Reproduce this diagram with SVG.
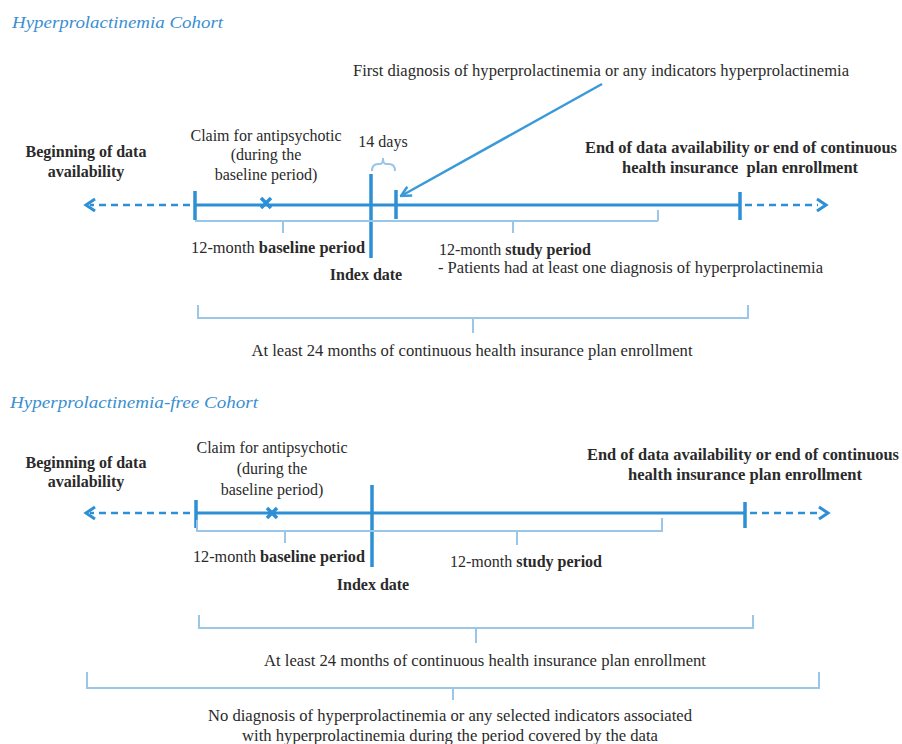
<svg xmlns="http://www.w3.org/2000/svg" width="902" height="744" viewBox="0 0 902 744">
<defs>
<style>
.t{font-family:"Liberation Serif","Times New Roman",serif;font-size:16px;fill:#2a2a2a}
.r{font-size:16px}
.w{font-size:16px}
.b{font-weight:bold}
.m{text-anchor:middle}
.title{font-family:"Liberation Serif","Times New Roman",serif;font-style:italic;font-size:17px;fill:#3a8fd0}
.tl{stroke:#2d8fd5;stroke-width:3;fill:none}
.tk{stroke:#2d8fd5;stroke-width:3.5;fill:none}
.ds{stroke:#2d8fd5;stroke-width:2.5;stroke-dasharray:7 5;fill:none}
.br{stroke:#9ac6e8;stroke-width:2;fill:none}
.ar{stroke:#3a9ad9;stroke-width:2.5;fill:none}
</style>
<marker id="ah" viewBox="0 0 10 10" refX="9" refY="5" markerWidth="5" markerHeight="5" orient="auto" markerUnits="strokeWidth">
<path d="M1,1 L9,5 L1,9" fill="none" stroke="#3a9ad9" stroke-width="2"/>
</marker>
</defs>
<rect width="902" height="744" fill="#ffffff"/>

<!-- Top cohort -->
<g id="title-top"><text class="title" x="12" y="28" textLength="211" lengthAdjust="spacingAndGlyphs">Hyperprolactinemia Cohort</text></g>

<g id="first-diagnosis"><text class="t w m" x="601" y="76" textLength="496" lengthAdjust="spacingAndGlyphs">First diagnosis of hyperprolactinemia or any indicators hyperprolactinemia</text></g>

<g id="begin-top"><text class="t b m" x="86" y="157">Beginning of data</text><text class="t b m" x="86" y="177">availability</text></g>

<g id="claim-top"><text class="t r m" x="266" y="141">Claim for antipsychotic</text><text class="t r m" x="266" y="160">(during the</text><text class="t r m" x="266" y="180">baseline period)</text></g>

<g id="days14"><text class="t m" x="383" y="147" font-size="11">14 days</text></g>

<g id="end-top"><text class="t b m" x="741" y="153" textLength="312" lengthAdjust="spacingAndGlyphs">End of data availability or end of continuous</text><text class="t b m" x="740" y="173" xml:space="preserve" textLength="236" lengthAdjust="spacingAndGlyphs">health insurance  plan enrollment</text></g>

<g id="baseline-top"><text class="t r" x="191" y="253" textLength="174" lengthAdjust="spacingAndGlyphs"><tspan>12-month </tspan><tspan class="b">baseline period</tspan></text></g>

<g id="index-top"><text class="t b r m" x="366" y="280">Index date</text></g>

<g id="study-top"><text class="t r" x="439" y="255"><tspan>12-month </tspan><tspan class="b">study period</tspan></text><text class="t w" x="438" y="273" textLength="385" lengthAdjust="spacingAndGlyphs">- Patients had at least one diagnosis of hyperprolactinemia</text></g>

<g id="enroll-top"><text class="t w m" x="472" y="356" textLength="441" lengthAdjust="spacingAndGlyphs">At least 24 months of continuous health insurance plan enrollment</text></g>

<!-- Bottom cohort -->
<g id="title-bottom"><text class="title" x="10" y="408" textLength="248" lengthAdjust="spacingAndGlyphs">Hyperprolactinemia-free Cohort</text></g>

<g id="begin-bottom"><text class="t b m" x="86" y="468">Beginning of data</text><text class="t b m" x="86" y="487">availability</text></g>

<g id="claim-bottom"><text class="t r m" x="272" y="453">Claim for antipsychotic</text><text class="t r m" x="272" y="474">(during the</text><text class="t r m" x="272" y="495">baseline period)</text></g>

<g id="end-bottom"><text class="t b m" x="743" y="460" textLength="312" lengthAdjust="spacingAndGlyphs">End of data availability or end of continuous</text><text class="t b m" x="745" y="480" textLength="234" lengthAdjust="spacingAndGlyphs">health insurance plan enrollment</text></g>

<g id="baseline-bottom"><text class="t r" x="193" y="562" textLength="172" lengthAdjust="spacingAndGlyphs"><tspan>12-month </tspan><tspan class="b">baseline period</tspan></text></g>

<g id="index-bottom"><text class="t b r m" x="373" y="590">Index date</text></g>

<g id="study-bottom"><text class="t r" x="450" y="567"><tspan>12-month </tspan><tspan class="b">study period</tspan></text></g>

<g id="enroll-bottom"><text class="t w m" x="485" y="666" textLength="442" lengthAdjust="spacingAndGlyphs">At least 24 months of continuous health insurance plan enrollment</text></g>

<g id="no-diagnosis"><text class="t w m" x="450" y="721" textLength="484" lengthAdjust="spacingAndGlyphs">No diagnosis of hyperprolactinemia or any selected indicators associated</text><text class="t w m" x="450" y="741" textLength="416" lengthAdjust="spacingAndGlyphs">with hyperprolactinemia during the period covered by the data</text></g>

<g id="connectors">
<!-- top timeline -->
<line class="tl" x1="195" y1="205" x2="740" y2="205"/>
<line class="ds" x1="190" y1="205" x2="90" y2="205"/>
<path class="tl" d="M95,199 L86,205 L95,211" stroke-width="2.5"/>
<line class="ds" x1="745" y1="205" x2="818" y2="205"/>
<path class="tl" d="M817,199 L826,205 L817,211" stroke-width="2.5"/>
<line class="tk" x1="195" y1="191" x2="195" y2="220"/>
<line class="tk" x1="371" y1="174" x2="371" y2="258"/>
<line class="tk" x1="396" y1="190" x2="396" y2="219"/>
<line class="tk" x1="740" y1="192" x2="740" y2="220"/>
<path class="tk" d="M261,198 L271,208 M271,198 L261,208"/>
<path class="br" d="M372,171 Q372,164 378,164 L380,164 Q383,164 383,158 Q383,164 386,164 L389,164 Q395,164 395,171" stroke-width="1.5"/>
<path class="br" d="M195,221 L658,221 M658,221 L658,210 M283,221 L283,233 M513,221 L513,233"/>
<path class="ar" d="M602,84 L401,196" marker-end="url(#ah)"/>
<path class="br" d="M198,305 L198,318 L748,318 L748,305 M473,318 L473,333"/>
<!-- bottom timeline -->
<line class="tl" x1="195" y1="513" x2="745" y2="513"/>
<line class="ds" x1="190" y1="513" x2="90" y2="513"/>
<path class="tl" d="M95,507 L86,513 L95,519" stroke-width="2.5"/>
<line class="ds" x1="750" y1="513" x2="820" y2="513"/>
<path class="tl" d="M819,507 L828,513 L819,519" stroke-width="2.5"/>
<line class="tk" x1="196" y1="500" x2="196" y2="528"/>
<line class="tk" x1="372" y1="485" x2="372" y2="567"/>
<line class="tk" x1="745" y1="502" x2="745" y2="528"/>
<path class="tk" d="M267,508 L277,518 M277,508 L267,518"/>
<path class="br" d="M197,520 L197,531 L662,531 L662,518 M285,531 L285,543 M517,531 L517,545"/>
<path class="br" d="M199,615 L199,628 L753,628 L753,615 M476,628 L476,643"/>
<path class="br" d="M87,672 L87,688 L819,688 L819,672 M453,688 L453,700"/>
</g>
</svg>
